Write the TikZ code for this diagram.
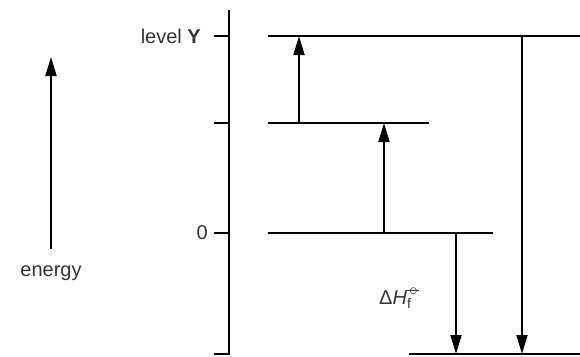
\documentclass[tikz,border=0pt]{standalone}
\usepackage{fontspec}
\setmainfont{Liberation Sans}
\usetikzlibrary{arrows.meta, positioning}
\newcommand{\plim}{\ooalign{\hfil$\circ$\hfil\cr\hidewidth\rule[0.215em]{0.65em}{0.07em}\hidewidth}}
\newcommand{\smalltxt}{\fontsize{14}{14}\selectfont}

\begin{document}
\begin{tikzpicture}[
x=1pt, y=-1pt,
level/.style={line width=1.8pt},
jump/.style={-{Triangle[length=19pt, width=11pt]}, line width=1.8pt},
lbl/.style={font=\fontsize{20}{23}\selectfont, inner sep=0pt, text=black!80}
]
\useasboundingbox (0,0) rectangle (580,356);

% energy arrow at the left
\coordinate (eBot) at (51,249);
\coordinate (eTop) at (51,57);
\draw[jump] (eBot) -- (eTop);
\node[lbl, below=17pt of eBot] (energy) {energy};

% vertical axis with its ticks
\coordinate (axTop) at (229,10);
\coordinate (axBot) at (229,354.5);
\draw[level] (axTop) -- (axBot);
\foreach \y/\n in {36/tY, 123/tM, 233/tZ, 354/tB}
  \draw[level] (214,\y) coordinate (\n) -- (229,\y);
\node[lbl, anchor=east] (lvlY) at (201,36) {level \textbf{Y}};
\node[lbl, anchor=east] (zero) at (208,233) {0};

% energy levels
\coordinate (Y0) at (268,36);  \coordinate (Y1) at (580,36);
\coordinate (M0) at (268,123); \coordinate (M1) at (429,123);
\coordinate (Z0) at (268,233); \coordinate (Z1) at (493,233);
\coordinate (B0) at (409,354); \coordinate (B1) at (580,354);
\foreach \a/\b in {Y0/Y1, M0/M1, Z0/Z1, B0/B1}
  \draw[level] (\a) -- (\b);

% steps between the levels
\coordinate (s1a) at (299,123); \coordinate (s1b) at (299,36);
\coordinate (s2a) at (384,233); \coordinate (s2b) at (384,123);
\coordinate (s3a) at (456,233); \coordinate (s3b) at (456,354);
\coordinate (s4a) at (522,36);  \coordinate (s4b) at (522,354);
\draw[jump] (s1a) -- (s1b);
\draw[jump] (s2a) -- (s2b);
\draw[jump] (s3a) -- (s3b);
\draw[jump] (s4a) -- (s4b);

\node[lbl, anchor=west] (dH) at (379,298)
  {Δ\textit{H}\rlap{\raisebox{-4pt}{\smalltxt f}}\kern2pt\raisebox{9pt}{\fontsize{18}{18}\selectfont\plim}};
\end{tikzpicture}
\end{document}
